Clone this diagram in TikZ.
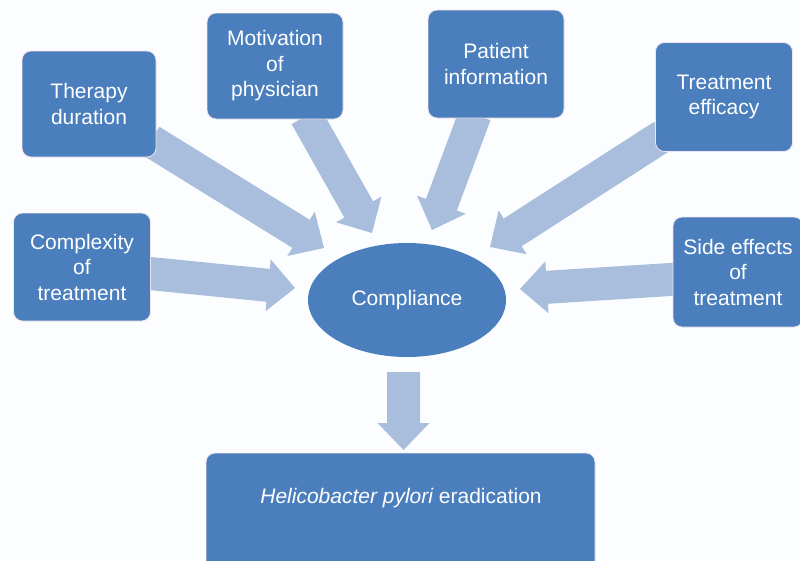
\documentclass[tikz,border=0pt]{standalone}
\usepackage{fontspec}
\setmainfont{Liberation Sans}
\usetikzlibrary{calc,shapes.geometric}
\pgfdeclarelayer{back}
\pgfdeclarelayer{arrowlayer}
\pgfsetlayers{back,arrowlayer,main}
\definecolor{boxblue}{HTML}{4A7EBD}
\definecolor{arrowblue}{HTML}{A9BEDC}
\definecolor{pagebg}{HTML}{FCFDFE}
\definecolor{boxedge}{HTML}{F2E4EC}
\tikzset{
  factor/.style={rectangle, draw=boxedge, line width=0.8pt, fill=boxblue,
    rounded corners=9pt, text=white, align=center, inner sep=0pt,
    font=\fontsize{21}{25.5}\selectfont},
  compl/.style={ellipse, fill=boxblue, draw=none, text=white, inner sep=0pt,
    minimum width=198pt, minimum height=114pt, font=\fontsize{21}{25.5}\selectfont},
  labeltext/.style={text=white, inner sep=0pt, font=\fontsize{21}{25.5}\selectfont},
  arrowfill/.style={fill=arrowblue, draw=none},
}
\newcommand\blockarrow[2]{%
  \coordinate (bahead) at ($(#2)!27pt!(#1)$);
  \fill[arrowfill] ($(#1)!16.5pt!90:(#2)$) -- ($(bahead)!16.5pt!90:(#2)$)
    -- ($(bahead)!26pt!90:(#2)$) -- (#2) -- ($(bahead)!26pt!-90:(#2)$)
    -- ($(bahead)!16.5pt!-90:(#2)$) -- ($(#1)!16.5pt!-90:(#2)$) -- cycle;}
\begin{document}
\begin{tikzpicture}[x=1pt,y=-1pt]
\clip (0,0) rectangle (800,560);
\useasboundingbox (0,0) rectangle (800,560);
\begin{pgfonlayer}{back}
  \fill[pagebg] (0,0) rectangle (800,560);
\end{pgfonlayer}

% factor boxes
\node[factor, minimum width=134pt, minimum height=106pt] (td) at (89,104) {Therapy\\duration};
\node[factor, minimum width=136pt, minimum height=106pt] (mp) at (275,66) {Motivation\\of\\physician};
\node[factor, minimum width=136pt, minimum height=108pt] (pi) at (496,64) {Patient\\information};
\node[factor, minimum width=137pt, minimum height=109pt] (te) at (724,97) {Treatment\\efficacy};
\node[factor, minimum width=137pt, minimum height=108pt] (ct) at (82,267) {Complexity\\of\\treatment};
\node[factor, minimum width=130pt, minimum height=110pt] (se) at (738,272) {Side effects\\of\\treatment};
\node[compl] (cp) at (407,300) {Compliance};
\node[factor, minimum width=389pt, minimum height=124pt] (hp) at (400.5,515) {};
\node[labeltext] (hptext) at (401,498) {\itshape Helicobacter pylori\upshape{} eradication};

% arrow end points
\coordinate (s1) at (150.7,140.8);  \coordinate (t1) at (324,248);
\coordinate (s2) at (306,116);      \coordinate (t2) at (372,233);
\coordinate (s3) at (475,114.5);    \coordinate (t3) at (432,230);
\coordinate (s4) at (663,135.7);    \coordinate (t4) at (490,247);
\coordinate (s5) at (145,273);      \coordinate (t5) at (295,288);
\coordinate (s6) at (678,279);      \coordinate (t6) at (520,289);
\coordinate (s7) at (403.5,372);    \coordinate (t7) at (403.5,450);

\begin{pgfonlayer}{arrowlayer}
  \blockarrow{s1}{t1}
  \blockarrow{s2}{t2}
  \blockarrow{s3}{t3}
  \blockarrow{s4}{t4}
  \blockarrow{s5}{t5}
  \blockarrow{s6}{t6}
  \blockarrow{s7}{t7}
\end{pgfonlayer}
\end{tikzpicture}
\end{document}
